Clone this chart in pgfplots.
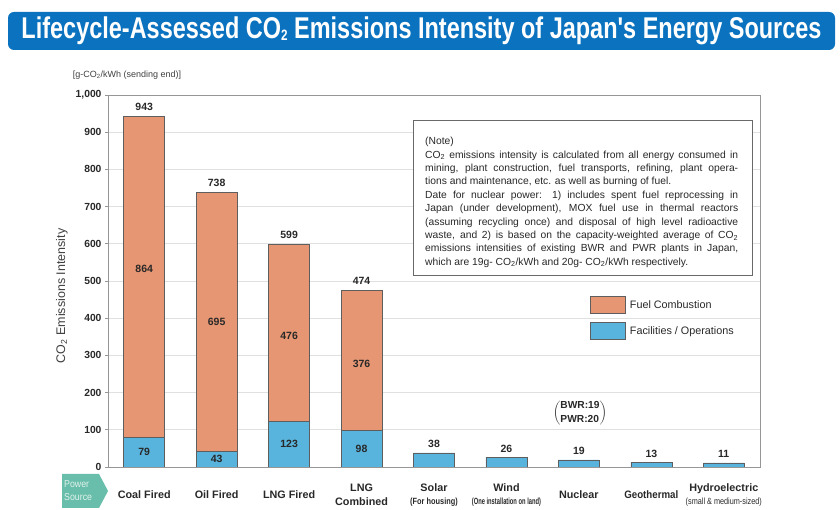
\documentclass[border=0pt]{standalone}
\usepackage{pgfplots}
\pgfplotsset{compat=1.18}
\usepackage{fontspec}
\setmainfont{Liberation Sans}
\usepackage{graphicx}

\definecolor{fuel}{RGB}{230,150,114}
\definecolor{fac}{RGB}{88,180,220}
\definecolor{banner}{RGB}{10,114,190}
\definecolor{tagteal}{RGB}{104,190,170}
\definecolor{tagtext}{RGB}{225,242,236}
\definecolor{txt}{RGB}{40,40,40}
\definecolor{framec}{RGB}{150,150,150}

\begin{document}
\begin{tikzpicture}[x=1pt,y=1pt]
\path (0,0) rectangle (840,508);
% title banner
\fill[banner, rounded corners=6pt] (8,458) rectangle (835,496);
\node[text=white, inner sep=0, font=\bfseries\fontsize{30}{30}\selectfont] at (421.5,477) {\resizebox{800pt}{\height}{Lifecycle-Assessed CO\raisebox{-1.5pt}{\fontsize{15}{15}\selectfont 2} Emissions Intensity of Japan\textquotesingle s Energy Sources}};

\begin{axis}[
  at={(108pt,41pt)}, anchor=south west,
  scale only axis, width=652pt, height=372pt,
  xmin=-0.5, xmax=8.5, ymin=0, ymax=1000,
  ybar stacked, bar width=41pt,
  axis line style={framec, line width=0.8pt},
  ytick={0,100,...,1000},
  scaled y ticks=false,
  ymajorgrids, grid style={black!12, line width=0.6pt},
  ytick pos=left,
  major y tick style={framec, line width=0.6pt},
  major tick length=3pt,
  tick align=outside,
  xtick={0,...,8},
  major x tick style={draw=none},
  xticklabels={
    Coal Fired,
    Oil Fired,
    LNG Fired,
    {LNG\\Combined},
    {Solar\\{\fontsize{9}{10}\selectfont\scalebox{0.82}[1]{(For housing)}}},
    {Wind\\{\fontsize{9}{10}\selectfont\scalebox{0.64}[1]{(One installation on land)}}},
    Nuclear,
    {\scalebox{0.9}[1]{Geothermal}},
    {Hydroelectric\\{\mdseries\fontsize{9}{10}\selectfont\scalebox{0.81}[1]{(small \& medium-sized)}}}
  },
  xticklabel style={anchor=center, yshift=-25pt, align=center, text=txt,
    font=\bfseries\fontsize{10.8}{13.5}\selectfont},
  yticklabel style={text=txt, font=\bfseries\fontsize{10.3}{12}\selectfont,
    /pgf/number format/1000 sep={,}, /pgf/number format/assume math mode=true},
  reverse legend,
  legend style={at={(rel axis cs:0.735,0.465)}, anchor=north west, draw=none, fill=none,
    font=\fontsize{10.8}{12}\selectfont, text=txt, row sep=8.5pt,
    /tikz/every odd column/.append style={column sep=2pt}},
  legend cell align=left,
  legend image code/.code={\draw[#1] (0pt,-8.5pt) rectangle (35pt,8.5pt);},
]
\addplot[fill=fac, draw=txt!75, line width=0.5pt] coordinates {(0,79) (1,43) (2,123) (3,98) (4,38) (5,26) (6,19) (7,13) (8,11)};
\addlegendentry{Facilities / Operations}
\addplot[fill=fuel, draw=txt!75, line width=0.5pt] coordinates {(0,864) (1,695) (2,476) (3,376) (4,0) (5,0) (6,0) (7,0) (8,0)};
\addlegendentry{Fuel Combustion}

% anchor points for labels
\coordinate (t0) at (axis cs:0,943);
\coordinate (t1) at (axis cs:1,738);
\coordinate (t2) at (axis cs:2,599);
\coordinate (t3) at (axis cs:3,474);
\coordinate (t4) at (axis cs:4,38);
\coordinate (t5) at (axis cs:5,26);
\coordinate (t6) at (axis cs:6,19);
\coordinate (t7) at (axis cs:7,13);
\coordinate (t8) at (axis cs:8,11);
\coordinate (b0) at (axis cs:0,39.5);
\coordinate (b1) at (axis cs:1,21.5);
\coordinate (b2) at (axis cs:2,61.5);
\coordinate (b3) at (axis cs:3,49);
\coordinate (f0) at (axis cs:0,532);
\coordinate (f1) at (axis cs:1,390);
\coordinate (f2) at (axis cs:2,352);
\coordinate (f3) at (axis cs:3,277);
\end{axis}

\begin{scope}[every node/.style={font=\bfseries\fontsize{10.5}{12}\selectfont, text=txt, inner sep=0}]
\node[anchor=base, yshift=6pt] at (t0) {943};
\node[anchor=base, yshift=6pt] at (t1) {738};
\node[anchor=base, yshift=6pt] at (t2) {599};
\node[anchor=base, yshift=6pt] at (t3) {474};
\node[anchor=base, yshift=5pt] at (t4) {38};
\node[anchor=base, yshift=5pt] at (t5) {26};
\node[anchor=base, yshift=5pt] at (t6) {19};
\node[anchor=base, yshift=5pt] at (t7) {13};
\node[anchor=base, yshift=5pt] at (t8) {11};
\node at (b0) {79};
\node at (b1) {43};
\node at (b2) {123};
\node at (b3) {98};
\node at (f0) {864};
\node at (f1) {695};
\node at (f2) {476};
\node at (f3) {376};
\end{scope}

% BWR / PWR annotation
\node[font=\bfseries\fontsize{10.2}{12}\selectfont, text=txt, inner sep=0] at (580,95) {$\left(\vcenter{\hbox{\begin{tabular}{@{}l@{}}BWR:19\\[1.5pt]PWR:20\end{tabular}}}\right)$};

% note box
\draw[framec!70!black, line width=0.8pt, fill=white] (413,388) rectangle (752,233);
\node[anchor=north west, inner sep=0, align=left, text=txt, font=\fontsize{10.3}{13.4}\selectfont] at (425,371) {%
(Note)\\
\makebox[313pt][s]{CO\textsubscript{2} emissions intensity is calculated from all energy consumed in}\\
\makebox[313pt][s]{mining, plant construction, fuel transports, refining, plant opera-}\\
tions and maintenance, etc. as well as burning of fuel.\\
\makebox[313pt][s]{Date for nuclear power: 1) includes spent fuel reprocessing in}\\
\makebox[313pt][s]{Japan (under development), MOX fuel use in thermal reactors}\\
\makebox[313pt][s]{(assuming recycling once) and disposal of high level radioactive}\\
\makebox[313pt][s]{waste, and 2) is based on the capacity-weighted average of CO\textsubscript{2}}\\
\makebox[313pt][s]{emissions intensities of existing BWR and PWR plants in Japan,}\\
which are 19g- CO\textsubscript{2}/kWh and 20g- CO\textsubscript{2}/kWh respectively.};

% y label and unit
\node[rotate=90, text=black!75, font=\fontsize{12.5}{14}\selectfont] at (62,212) {CO\textsubscript{2} Emissions Intensity};
\node[text=black!75, font=\fontsize{9}{10}\selectfont] at (127,433) {[g-CO\textsubscript{2}/kWh (sending end)]};

% power source tag
\fill[tagteal] (62,0) -- (62,34) -- (99,34) -- (108,17) -- (99,0) -- cycle;
\node[anchor=west, align=left, text=tagtext, inner sep=0, font=\fontsize{10}{13}\selectfont] at (64,17) {\scalebox{0.88}[1]{Power}\\\scalebox{0.88}[1]{Source}};
\end{tikzpicture}
\end{document}
